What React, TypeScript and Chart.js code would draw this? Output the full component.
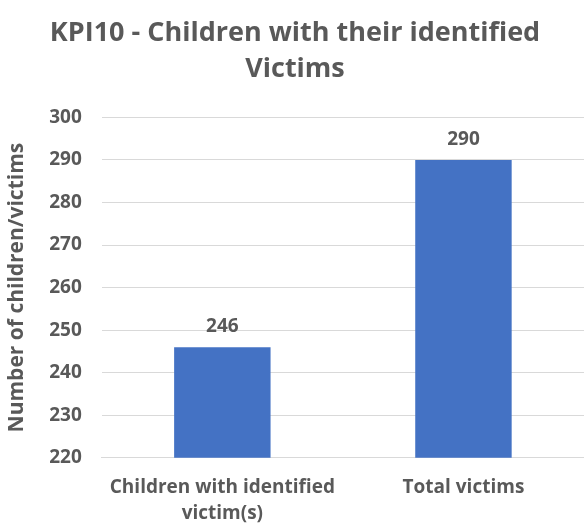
import React, { useEffect, useRef } from "react";
import { Chart, registerables } from "chart.js";

Chart.register(...registerables);

const categories: (string | string[])[] = [["Children with identified", "victim(s)"], "Total victims"];
const values = [246, 290];
const titleLines = ["KPI10 - Children with their identified", "Victims"];
const yTitle = "Number of children/victims";
const yMin = 220;
const yMax = 300;
const yStep = 10;

const FONT = "'Open Sans', 'Noto Sans', sans-serif";
const GRAY = "#595959";

const dataLabels = {
  id: "dataLabels",
  afterDatasetsDraw(chart: any) {
    const ctx = chart.ctx;
    const meta = chart.getDatasetMeta(0);
    ctx.save();
    ctx.font = `bold 19px ${FONT}`;
    ctx.fillStyle = GRAY;
    ctx.textAlign = "center";
    ctx.textBaseline = "bottom";
    meta.data.forEach((bar: any, i: number) => {
      ctx.fillText(String(chart.data.datasets[0].data[i]), bar.x, bar.y - 11);
    });
    ctx.restore();
  },
};

export default function App() {
  const ref = useRef<HTMLCanvasElement | null>(null);
  useEffect(() => {
    document.body.style.margin = "0";
    document.body.style.overflow = "hidden";
    const chart = new Chart(ref.current!, {
      type: "bar",
      data: {
        labels: categories,
        datasets: [
          {
            data: values,
            backgroundColor: "#4472C4",
            categoryPercentage: 1,
            barPercentage: 0.4,
          },
        ],
      },
      options: {
        animation: false,
        responsive: false,
        layout: { padding: { left: 2, right: -4, top: 0, bottom: -14 } },
        plugins: {
          legend: { display: false },
          tooltip: { enabled: false },
          title: {
            display: true,
            text: titleLines,
            color: GRAY,
            font: { family: FONT, size: 27, weight: "bold", lineHeight: 1.34 },
            padding: { top: 15, bottom: 30 },
          },
        },
        scales: {
          x: {
            grid: { display: false, drawTicks: false },
            border: { display: true, color: "#d9d9d9" },
            ticks: { color: GRAY, font: { family: FONT, size: 19, weight: "bold", lineHeight: 1.4 }, padding: 16 },
          },
          y: {
            min: yMin,
            max: yMax,
            ticks: { stepSize: yStep, color: GRAY, font: { family: FONT, size: 19, weight: "bold" }, padding: 20 },
            grid: { color: "#d9d9d9", drawTicks: false },
            border: { display: false },
            title: {
              display: true,
              text: yTitle,
              color: GRAY,
              font: { family: FONT, size: 21, weight: "bold" },
              padding: { top: 2, bottom: 0 },
            },
          },
        },
      },
      plugins: [dataLabels],
    });
    return () => chart.destroy();
  }, []);
  return <canvas ref={ref} width={584} height={529} style={{ display: "block" }} />;
}
